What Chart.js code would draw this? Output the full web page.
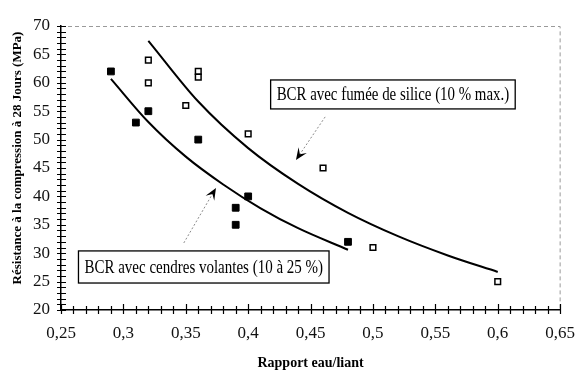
<!DOCTYPE html>
<html>
<head>
<meta charset="utf-8">
<script src="https://cdn.jsdelivr.net/npm/chart.js@4/dist/chart.umd.min.js"></script>
<style>
html, body { margin: 0; padding: 0; background: #fff; }
#wrap { width: 588px; height: 374px; }
</style>
</head>
<body>
<div id="wrap"><canvas id="myChart" width="588" height="374"></canvas></div>
<script>
'use strict';
// points mesures
let cendresX = [0.29, 0.31, 0.32, 0.36, 0.39, 0.39, 0.40, 0.48];
let cendresY = [62, 53, 55, 50, 38, 35, 40, 32];
let siliceX = [0.32, 0.32, 0.35, 0.36, 0.36, 0.40, 0.46, 0.50, 0.60];
let siliceY = [64, 60, 56, 62, 61, 51, 45, 31, 25];
// courbes de tendance
let courbeCendresX = [0.29, 0.32, 0.35, 0.38, 0.41, 0.44, 0.48];
let courbeCendresY = [60.7, 53.1, 47.0, 42.1, 37.9, 34.4, 30.6];
let courbeSiliceX = [0.32, 0.36, 0.40, 0.44, 0.48, 0.52, 0.56, 0.60];
let courbeSiliceY = [67.4, 56.7, 48.5, 42.2, 37.1, 33.0, 29.6, 26.7];
// etiquettes des axes
let xTickLabels = ['0,25', '0,3', '0,35', '0,4', '0,45', '0,5', '0,55', '0,6', '0,65'];
let yTickLabels = ['20', '25', '30', '35', '40', '45', '50', '55', '60', '65', '70'];
let xTitle = 'Rapport eau/liant';
let yTitle = 'Résistance à la compression à 28 Jours (MPa)';
let noteSilice = 'BCR avec fumée de silice (10 % max.)';
let noteCendres = 'BCR avec cendres volantes (10 à 25 %)';

function toPoints(xs, ys) {
    let pts = [];
    for (let i = 0; i < xs.length; i++) {
        pts.push({ x: xs[i], y: ys[i] });
    }
    return pts;
}

// boites + fleches, en unites des axes
let notes = [
    { text: noteSilice, x0: 0.418, x1: 0.614, y0: 60.5, y1: 55.4, ax: 0.4617, ay: 54.0, hx: 0.4383, hy: 46.4 },
    { text: noteCendres, x0: 0.264, x1: 0.4648, y0: 30.4, y1: 24.75, ax: 0.3484, ay: 31.8, hx: 0.3742, hy: 41.5 }
];

let serif = '"Liberation Serif", "DejaVu Serif", serif';

let axesPlugin = {
    id: 'axesPlugin',
    afterDraw(chart) {
        let ctx = chart.ctx;
        let xs = chart.scales.x;
        let ys = chart.scales.y;
        let area = chart.chartArea;
        ctx.save();
        // cadre haut / droite
        ctx.strokeStyle = '#9a9a9a';
        ctx.lineWidth = 1;
        ctx.setLineDash([4, 3]);
        ctx.beginPath();
        ctx.moveTo(area.left, area.top + 0.5);
        ctx.lineTo(area.right, area.top + 0.5);
        ctx.lineTo(area.right, area.bottom);
        ctx.stroke();
        ctx.setLineDash([]);
        // graduations en croix
        ctx.strokeStyle = '#000';
        ctx.lineWidth = 1.2;
        ctx.beginPath();
        xs.ticks.forEach(function (t) {
            let px = Math.round(xs.getPixelForValue(t.value)) + 0.5;
            let major = Math.abs(Math.round((t.value - 0.25) / 0.01)) % 5 === 0;
            ctx.moveTo(px, area.bottom - (major ? 6 : 4));
            ctx.lineTo(px, area.bottom + 4);
        });
        ys.ticks.forEach(function (t) {
            let py = Math.round(ys.getPixelForValue(t.value)) + 0.5;
            ctx.moveTo(area.left - 4, py);
            ctx.lineTo(area.left + 5, py);
        });
        ctx.stroke();
        // titre axe y
        ctx.save();
        ctx.translate(18, 158);
        ctx.rotate(-Math.PI / 2);
        ctx.fillStyle = '#000';
        ctx.font = 'bold 13px ' + serif;
        ctx.textAlign = 'center';
        ctx.textBaseline = 'middle';
        ctx.fillText(yTitle, 0, 0, 290);
        ctx.restore();
        // annotations
        notes.forEach(function (n) {
            let bx0 = xs.getPixelForValue(n.x0), bx1 = xs.getPixelForValue(n.x1);
            let by0 = ys.getPixelForValue(n.y0), by1 = ys.getPixelForValue(n.y1);
            ctx.fillStyle = '#fff';
            ctx.fillRect(bx0, by0, bx1 - bx0, by1 - by0);
            ctx.strokeStyle = '#000';
            ctx.lineWidth = 1.3;
            ctx.strokeRect(bx0, by0, bx1 - bx0, by1 - by0);
            ctx.fillStyle = '#000';
            ctx.font = '18px ' + serif;
            ctx.textAlign = 'center';
            ctx.textBaseline = 'middle';
            ctx.fillText(n.text, (bx0 + bx1) / 2, (by0 + by1) / 2 + 1, bx1 - bx0 - 12);
            // fleche
            let ax = xs.getPixelForValue(n.ax), ay = ys.getPixelForValue(n.ay);
            let hx = xs.getPixelForValue(n.hx), hy = ys.getPixelForValue(n.hy);
            let ang = Math.atan2(hy - ay, hx - ax);
            let c = Math.cos(ang), s = Math.sin(ang);
            ctx.strokeStyle = '#8a8a8a';
            ctx.lineWidth = 1;
            ctx.setLineDash([2, 2]);
            ctx.beginPath();
            ctx.moveTo(ax, ay);
            ctx.lineTo(hx - 7 * c, hy - 7 * s);
            ctx.stroke();
            ctx.setLineDash([]);
            ctx.fillStyle = '#000';
            ctx.beginPath();
            ctx.moveTo(hx, hy);
            ctx.lineTo(hx - 12 * c + 5 * s, hy - 12 * s - 5 * c);
            ctx.lineTo(hx - 7 * c, hy - 7 * s);
            ctx.lineTo(hx - 12 * c - 5 * s, hy - 12 * s + 5 * c);
            ctx.closePath();
            ctx.fill();
        });
        ctx.restore();
    }
};

let tickFont = { family: serif, size: 17 };
let titleFont = { family: serif, size: 14, weight: 'bold' };

let ctx = document.getElementById('myChart').getContext('2d');
let chart = new Chart(ctx, {
    type: 'scatter',
    data: {
        datasets: [
            {
                label: 'courbe silice',
                data: toPoints(courbeSiliceX, courbeSiliceY),
                showLine: true,
                borderColor: '#000',
                borderWidth: 2,
                pointRadius: 0,
                cubicInterpolationMode: 'monotone'
            },
            {
                label: 'courbe cendres',
                data: toPoints(courbeCendresX, courbeCendresY),
                showLine: true,
                borderColor: '#000',
                borderWidth: 2,
                pointRadius: 0,
                cubicInterpolationMode: 'monotone'
            },
            {
                label: 'fumée de silice',
                data: toPoints(siliceX, siliceY),
                pointStyle: 'rect',
                pointRadius: 4,
                backgroundColor: '#fff',
                borderColor: '#000',
                borderWidth: 1.5
            },
            {
                label: 'cendres volantes',
                data: toPoints(cendresX, cendresY),
                pointStyle: 'rect',
                pointRadius: 4.8,
                backgroundColor: '#000',
                borderColor: '#000',
                borderWidth: 1
            }
        ]
    },
    plugins: [axesPlugin],
    options: {
        responsive: false,
        animation: false,
        layout: { padding: { top: 26, right: 15, left: 0, bottom: 0 } },
        plugins: { legend: { display: false }, tooltip: { enabled: false } },
        scales: {
            x: {
                type: 'linear',
                min: 0.25,
                max: 0.65,
                afterFit: function (scale) { scale.height = 64; },
                grid: { display: false, drawTicks: false },
                border: { display: true, color: '#000', width: 1.5 },
                ticks: {
                    stepSize: 0.01,
                    autoSkip: false,
                    maxRotation: 0,
                    padding: 13,
                    color: '#111',
                    font: tickFont,
                    callback: function (value) {
                        let i = Math.round((value - 0.25) / 0.01);
                        return i % 5 === 0 ? xTickLabels[i / 5] : '';
                    }
                },
                title: { display: true, text: xTitle, color: '#000', font: titleFont, padding: { top: 0, bottom: 2 } }
            },
            y: {
                min: 20,
                max: 70,
                afterFit: function (scale) { scale.width = 61; },
                grid: { display: false, drawTicks: false },
                border: { display: true, color: '#000', width: 1.5 },
                ticks: {
                    stepSize: 1,
                    autoSkip: false,
                    padding: 11,
                    color: '#111',
                    font: tickFont,
                    callback: function (value) {
                        let i = Math.round(value - 20);
                        return i % 5 === 0 ? yTickLabels[i / 5] : '';
                    }
                },
                title: { display: false, text: yTitle }
            }
        }
    }
});
</script>
</body>
</html>
